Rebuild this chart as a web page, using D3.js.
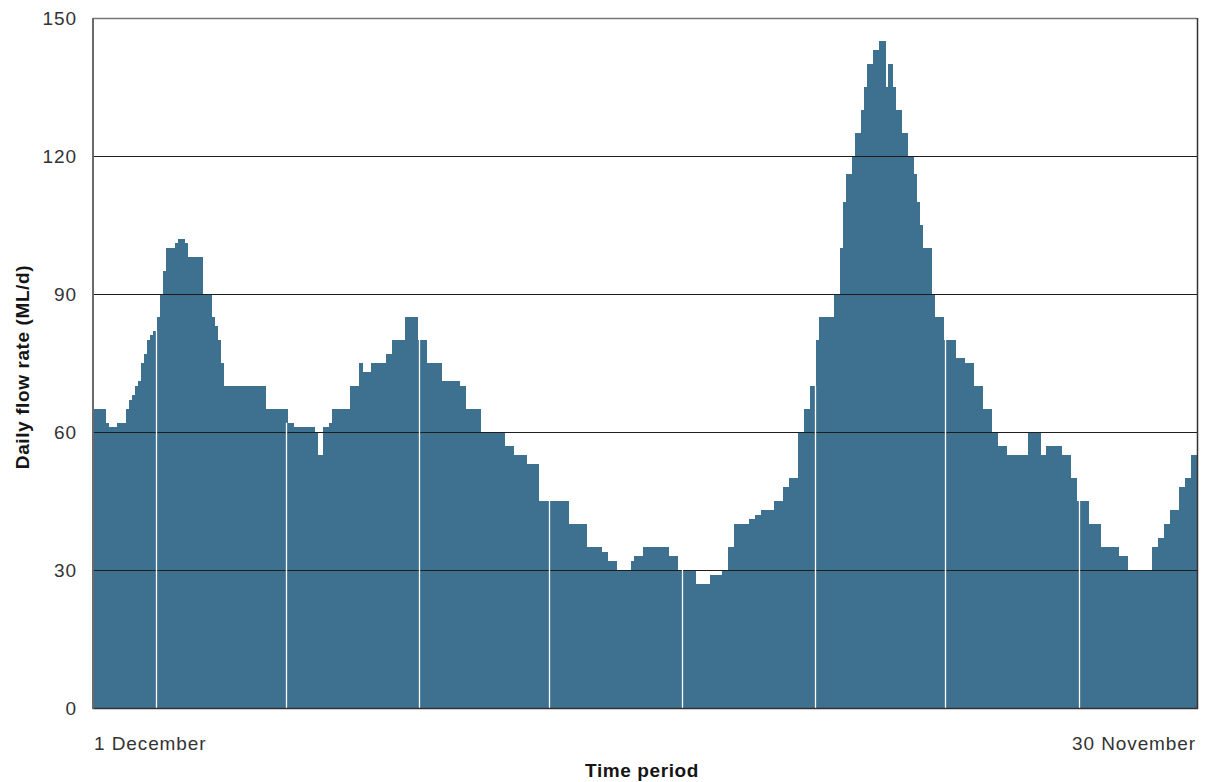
<!DOCTYPE html>
<html>
<head>
<meta charset="utf-8">
<script src="https://cdn.jsdelivr.net/npm/d3@7"></script>
<style>
  html, body { margin: 0; padding: 0; background: #fff; }
  svg { display: block; }
  .tick-label { font-family: "Liberation Sans", Arial, sans-serif; font-size: 19px; fill: #333; letter-spacing: 0.9px; }
  .axis-title { font-family: "Liberation Sans", Arial, sans-serif; font-size: 19px; font-weight: bold; fill: #151515; letter-spacing: 0.6px; }
</style>
</head>
<body>
<svg id="chart" width="1206" height="782"></svg>
<script>
// Daily flow rate (ML/d), 1 December through 30 November (365 days)
const dailyFlow = [
  65,65,65,65,62,61,61,61,62,62,
  62,65,67,68,70,71,75,77,80,81,
  82,85,90,95,100,100,100,101,102,102,
  101,98,98,98,98,98,90,90,90,85,
  83,80,75,70,70,70,70,70,70,70,
  70,70,70,70,70,70,70,65,65,65,
  65,65,65,65,62,62,61,61,61,61,
  61,61,61,60,55,55,61,61,62,65,
  65,65,65,65,65,70,70,70,75,73,
  73,73,75,75,75,75,75,77,77,80,
  80,80,80,85,85,85,85,80,80,80,
  75,75,75,75,75,71,71,71,71,71,
  71,70,70,65,65,65,65,65,60,60,
  60,60,60,60,60,60,57,57,57,55,
  55,55,55,53,53,53,53,45,45,45,
  45,45,45,45,45,45,45,40,40,40,
  40,40,40,35,35,35,35,35,34,34,
  32,32,32,30,30,30,30,30,32,33,
  33,33,35,35,35,35,35,35,35,35,
  33,33,33,30,30,30,30,30,30,27,
  27,27,27,27,29,29,29,29,30,30,
  35,35,40,40,40,40,40,41,41,42,
  42,43,43,43,43,45,45,45,48,48,
  50,50,50,60,60,65,65,70,70,80,
  85,85,85,85,85,90,90,100,110,116,
  116,120,125,125,130,135,140,140,143,143,
  145,145,135,140,135,130,130,125,125,120,
  120,116,110,105,100,100,100,90,85,85,
  85,80,80,80,80,76,76,76,75,75,
  75,70,70,70,65,65,65,60,60,57,
  57,57,55,55,55,55,55,55,55,60,
  60,60,60,55,55,57,57,57,57,57,
  55,55,55,50,50,45,45,45,45,40,
  40,40,40,35,35,35,35,35,35,33,
  33,33,30,30,30,30,30,30,30,30,
  35,35,37,37,40,40,43,43,43,48,
  48,50,50,55,55
];

// Day indices where a period boundary is marked inside the bars
const periodBreaks = [21, 64, 108, 151, 195, 239, 282, 326];

// Value-axis ticks and time-axis end labels
const yTicks = [0, 30, 60, 90, 120, 150];
const xEndLabels = ["1 December", "30 November"];
const yTitle = "Daily flow rate (ML/d)";
const xTitle = "Time period";

const margin = { left: 93, right: 9, top: 18, bottom: 74 };
const width = 1206, height = 782;
const x0 = margin.left, x1 = width - margin.right;
const yTop = margin.top, yBottom = height - margin.bottom;

const svg = d3.select("#chart");

const days = d3.range(dailyFlow.length);
const x = d3.scaleBand().domain(days).range([x0, x1]).padding(0);
const y = d3.scaleLinear().domain([0, 150]).range([yBottom, yTop]);

const barColor = "#3e708f";

// Daily bars (slight overlap + crisp edges so neighbouring days join seamlessly)
svg.append("g")
  .attr("shape-rendering", "crispEdges")
  .selectAll("rect")
  .data(dailyFlow)
  .join("rect")
  .attr("x", (d, i) => x(i))
  .attr("y", d => y(d))
  .attr("width", (d, i) => Math.min(x.bandwidth() + 1, x1 - x(i)))
  .attr("height", d => y(0) - y(d))
  .attr("fill", barColor);

// Horizontal gridlines (drawn over the bars)
svg.append("g")
  .selectAll("line")
  .data(yTicks.filter(t => t > 0 && t < 150))
  .join("line")
  .attr("x1", x0).attr("x2", x1)
  .attr("y1", d => Math.round(y(d)) + 0.5)
  .attr("y2", d => Math.round(y(d)) + 0.5)
  .attr("stroke", "#1e1e1e")
  .attr("stroke-width", 1.2);

// White period separators inside the bars
svg.append("g")
  .selectAll("line")
  .data(periodBreaks)
  .join("line")
  .attr("x1", d => Math.floor(x(d)) + 0.5).attr("x2", d => Math.floor(x(d)) + 0.5)
  .attr("y1", y(0))
  .attr("y2", d => y(Math.min(dailyFlow[d - 1], dailyFlow[d])))
  .attr("stroke", "#ffffff")
  .attr("stroke-width", 1.3);

// Frame: top, right, bottom, left
svg.append("line")
  .attr("x1", x0).attr("x2", x1).attr("y1", yTop + 0.5).attr("y2", yTop + 0.5)
  .attr("stroke", "#777").attr("stroke-width", 1.5);
svg.append("line")
  .attr("x1", x1 + 0.5).attr("x2", x1 + 0.5).attr("y1", yTop).attr("y2", yBottom + 1)
  .attr("stroke", "#333").attr("stroke-width", 1.5);
svg.append("line")
  .attr("x1", x0).attr("x2", x1 + 1).attr("y1", yBottom + 0.5).attr("y2", yBottom + 0.5)
  .attr("stroke", "#333").attr("stroke-width", 1.5);
svg.append("line")
  .attr("x1", x0).attr("x2", x0).attr("y1", yTop).attr("y2", yBottom + 1)
  .attr("stroke", "#6a6a6a").attr("stroke-width", 2);

// Y-axis tick labels
const yAxis = d3.axisLeft(y).tickValues(yTicks).tickSize(0).tickPadding(16);
const yAxisG = svg.append("g").attr("transform", `translate(${x0},0)`).call(yAxis);
yAxisG.select(".domain").remove();
yAxisG.selectAll("text")
  .attr("class", "tick-label")
  .attr("font-family", null).attr("font-size", null)
  .attr("fill", null);
yAxisG.attr("font-family", null).attr("font-size", null);

// Time-axis end labels
svg.append("text")
  .attr("class", "tick-label")
  .attr("x", x(0) + 1)
  .attr("y", 750)
  .attr("text-anchor", "start")
  .text(xEndLabels[0]);
svg.append("text")
  .attr("class", "tick-label")
  .attr("x", x(days[days.length - 1]) + x.bandwidth() - 1)
  .attr("y", 750)
  .attr("text-anchor", "end")
  .text(xEndLabels[1]);

// Axis titles
svg.append("text")
  .attr("class", "axis-title")
  .attr("x", (x0 + x1) / 2 - 3)
  .attr("y", 777)
  .attr("text-anchor", "middle")
  .text(xTitle);
svg.append("text")
  .attr("class", "axis-title")
  .attr("transform", `translate(29, ${(yTop + yBottom) / 2 + 4}) rotate(-90)`)
  .attr("text-anchor", "middle")
  .text(yTitle);
</script>
</body>
</html>
